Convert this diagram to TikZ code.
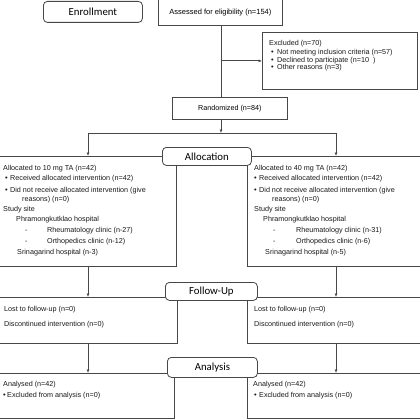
\documentclass[tikz,border=0pt]{standalone}
\usepackage{fontspec}
\setmainfont{Liberation Sans}
\newfontfamily\hdrfont{Carlito}
\usetikzlibrary{arrows.meta}
\newcommand{\bul}[1]{\makebox[#1][l]{\fontsize{7.5}{8}\selectfont•}}
\begin{document}
\begin{tikzpicture}[x=1pt,y=-1pt,
  box/.style={draw=black!72,line width=0.8pt,fill=white,inner sep=0pt,anchor=north west,font=\fontsize{7.2}{8}\selectfont},
  hdr/.style={draw=black!72,line width=0.8pt,fill=white,rounded corners=4pt,inner sep=0pt,anchor=north west,font=\hdrfont\fontsize{10.8}{12}\selectfont},
  txt/.style={anchor=west,inner sep=0pt,font=\fontsize{7.2}{8}\selectfont,text=black!90},
  ln/.style={draw=black!72,line width=0.8pt},
  arr/.style={ln,-{Latex[length=3.5pt,width=3pt]}}]
\clip (0,0) rectangle (420,420);
\fill[white] (0,0) rectangle (420,420);
% boxes
\node[hdr,minimum width=99pt,minimum height=21pt] (enroll) at (43,1) {Enrollment};
\node[box,minimum width=124pt,minimum height=26pt,font=\fontsize{7.5}{8}\selectfont] (assess) at (158,-1) {Assessed for eligibility (n=154)};
\node[box,minimum width=155pt,minimum height=57pt] (excl) at (262,32) {};
\node[box,minimum width=115pt,minimum height=22pt] (rand) at (172,97) {Randomized (n=84)};
\node[box,minimum width=181pt,minimum height=110pt] (allocL) at (-5,156) {};
\node[box,minimum width=180pt,minimum height=110pt] (allocR) at (247,156) {};
\node[box,minimum width=182pt,minimum height=46pt] (fuL) at (-5,297) {};
\node[box,minimum width=180pt,minimum height=46pt] (fuR) at (247,297) {};
\node[box,minimum width=179pt,minimum height=45pt] (anL) at (-5,373) {};
\node[box,minimum width=180pt,minimum height=45pt] (anR) at (247,373) {};
% coordinates
\coordinate (spL) at (88,133);
\coordinate (spR) at (336,133);
% connectors
\draw[ln] (assess.south -| 221,0) -- (221,0 |- rand.north);
\draw[arr] (221,0 |- excl.west) -- (excl.west);
\draw[arr] (221,0 |- rand.south) -- (221,0 |- spL);
\draw[ln] (spL) -- (spR);
\draw[arr] (spL) -- (spL |- allocL.north);
\draw[arr] (spR) -- (spR |- allocR.north);
\draw[arr] (spL |- allocL.south) -- (spL |- fuL.north);
\draw[arr] (spR |- allocR.south) -- (spR |- fuR.north);
\draw[arr] (spL |- fuL.south) -- (spL |- anL.north);
\draw[arr] (spR |- fuR.south) -- (spR |- anR.north);
% headers
\node[hdr,minimum width=89pt,minimum height=18pt] (halloc) at (162,147) {Allocation};
\node[hdr,minimum width=92pt,minimum height=18pt] (hfu) at (165,282) {Follow-Up};
\node[hdr,minimum width=90pt,minimum height=20pt] (han) at (167,357) {Analysis};
% excluded text
\node[txt] (ex1) at (269,44) {Excluded (n=70)};
\node[txt] (ex2) at (271,53) {\bul{6pt}Not meeting inclusion criteria (n=57)};
\node[txt] (ex3) at (271,61) {\bul{6pt}Declined to participate (n=10\ \ )};
\node[txt] (ex4) at (271,68) {\bul{6pt}Other reasons (n=3)};
% left allocation text
\node[txt] (la1) at (3,169) {Allocated to 10 mg TA (n=42)};
\node[txt] (la2) at (5,179) {\bul{5pt}Received allocated intervention (n=42)};
\node[txt] (la3) at (5,191) {\bul{5pt}Did not receive allocated intervention (give};
\node[txt] (la4) at (22,200) {reasons) (n=0)};
\node[txt] (la5) at (3,210) {Study site};
\node[txt] (la6) at (16,220) {Phramongkutklao hospital};
\node[txt] (la7d) at (25,231) {-};
\node[txt] (la7) at (47,231) {Rheumatology clinic (n-27)};
\node[txt] (la8d) at (25,242) {-};
\node[txt] (la8) at (47,242) {Orthopedics clinic (n-12)};
\node[txt] (la9) at (17,253) {Srinagarind hospital (n-3)};
% right allocation text
\node[txt] (ra1) at (254,169) {Allocated to 40 mg TA (n=42)};
\node[txt] (ra2) at (254,179) {\bul{5pt}Received allocated intervention (n=42)};
\node[txt] (ra3) at (254,191) {\bul{5pt}Did not receive allocated intervention (give};
\node[txt] (ra4) at (272,200) {reasons) (n=0)};
\node[txt] (ra5) at (254,210) {Study site};
\node[txt] (ra6) at (263,220) {Phramongkutklao hospital};
\node[txt] (ra7d) at (273,231) {-};
\node[txt] (ra7) at (296,231) {Rheumatology clinic (n-31)};
\node[txt] (ra8d) at (273,242) {-};
\node[txt] (ra8) at (296,242) {Orthopedics clinic (n-6)};
\node[txt] (ra9) at (265,253) {Srinagarind hospital (n-5)};
% follow-up text
\node[txt] (lf1) at (4,310) {Lost to follow-up (n=0)};
\node[txt] (lf2) at (4,325) {Discontinued intervention (n=0)};
\node[txt] (rf1) at (254,310) {Lost to follow-up (n=0)};
\node[txt] (rf2) at (254,325) {Discontinued intervention (n=0)};
% analysis text
\node[txt] (ln1) at (3,385) {Analysed (n=42)};
\node[txt] (ln2) at (3,396) {\bul{4pt}Excluded from analysis (n=0)};
\node[txt] (rn1) at (253,385) {Analysed (n=42)};
\node[txt] (rn2) at (254,396) {\bul{5pt}Excluded from analysis (n=0)};
\end{tikzpicture}
\end{document}
